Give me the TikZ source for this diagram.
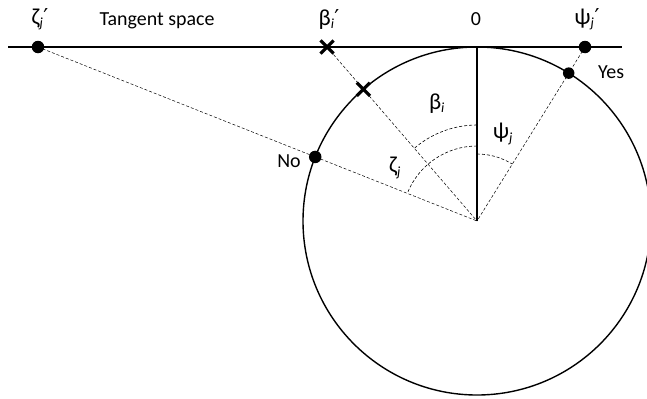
\documentclass[tikz,border=0pt]{standalone}
\usepackage{fontspec}
\setmainfont{Carlito}
\newfontfamily\primefont{DejaVu Sans}
\newcommand{\pr}{{\primefont\fontsize{22}{24}\selectfont ′}}
\newcommand{\gk}[1]{{\fontsize{23}{24}\selectfont #1}}
\usetikzlibrary{calc,shapes.misc}

\begin{document}
\begin{tikzpicture}[x=1bp, y=1bp,
  every node/.style={font=\fontsize{20}{24}\selectfont, inner sep=1pt},
  proj/.style={densely dashed, line width=0.5pt},
  ang/.style={densely dashed, line width=0.6pt},
  dot/.style={circle, fill=black, inner sep=0pt, minimum size=12.5bp},
  cross/.style={cross out, draw=black, line width=3.2pt, inner sep=0pt, minimum size=10bp}]
\useasboundingbox (0,0) rectangle (647,398);
\coordinate (O) at (477,177);
\coordinate (T) at (477,351);
% tangent line and unit circle
\draw[line width=1.1pt] (8,351) coordinate (tl) -- (622,351) coordinate (tr);
\draw[line width=1.4pt] (O) circle (174);
\draw[line width=1.1pt] (T) -- (O);
% projections onto the tangent space
\coordinate (zp) at (38,351);
\coordinate (bp) at (327,351);
\coordinate (pp) at (585,351);
\coordinate (zc) at ($(O)+(158.4:174)$);
\coordinate (bc) at ($(O)+(130.8:174)$);
\coordinate (pc) at ($(O)+(58.2:174)$);
\draw[proj] (zp) -- (O);
\draw[proj] (bp) -- (O);
\draw[proj] (pp) -- (O);
% angles
\draw[ang] ($(O)+(90:96)$) arc (90:130.8:96);
\draw[ang] ($(O)+(90:75)$) arc (90:158.4:75);
\draw[ang] ($(O)+(90:67)$) arc (90:58.2:67);
% points
\node[dot] (zd) at (zp) {};
\node[dot] (nod) at (zc) {};
\node[dot] (pd) at (pp) {};
\node[dot, minimum size=11.5bp] (yd) at (pc) {};
\node[cross] (bx) at (bp) {};
\node[cross] (cx) at (bc) {};
% labels
\node (zl) at (40,379) {\gk{ζ}\textsubscript{\textit{j}}\pr};
\node (ts) at (157,377) {Tangent space};
\node (bl) at (329,379) {\gk{β}\textsubscript{\textit{i}}\pr};
\node (zero) at (476,379) {0};
\node (pl) at (587,379) {\gk{ψ}\textsubscript{\textit{j}}\pr};
\node[anchor=west] (yes) at (597,326) {Yes};
\node (no) at (289,237) {No};
\node (ba) at (437,294) {\gk{β}\textsubscript{\textit{i}}};
\node (za) at (395,230) {\gk{ζ}\textsubscript{\textit{j}}};
\node (pa) at (503,264) {\gk{ψ}\textsubscript{\textit{j}}};
\end{tikzpicture}
\end{document}
